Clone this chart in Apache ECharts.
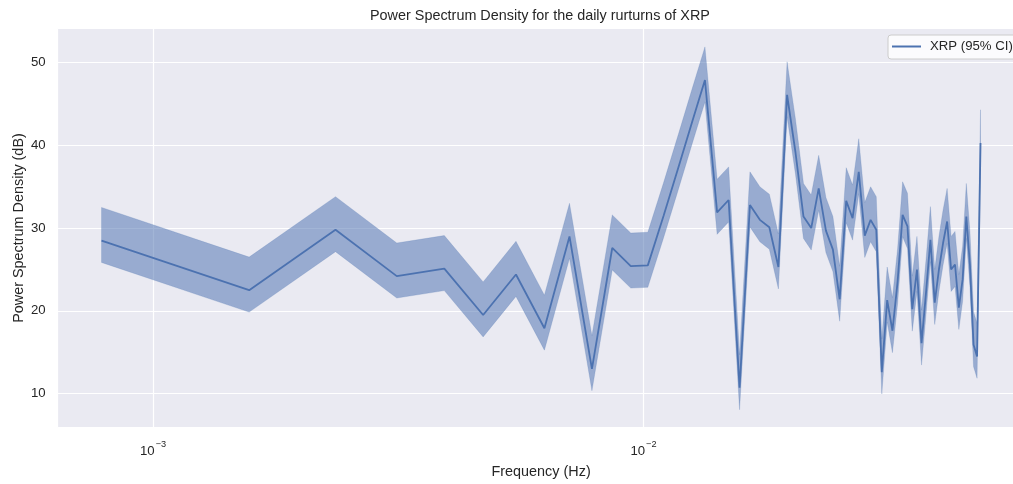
<!DOCTYPE html>
<html>
<head>
<meta charset="utf-8">
<script src="https://cdn.jsdelivr.net/npm/echarts@6/dist/echarts.min.js"></script>
<style>
html,body{margin:0;padding:0;background:#ffffff;}
#chart{width:1013px;height:484px;}
</style>
</head>
<body>
<div id="chart"></div>
<script>
// Frequencies (Hz)
const freq = [0.000785, 0.00157, 0.002355, 0.00314, 0.003925, 0.00471, 0.005495, 0.00628, 0.007065, 0.00785,
  0.008635, 0.00942, 0.010205, 0.01099, 0.011775, 0.01256, 0.013345, 0.01413, 0.014915, 0.0157,
  0.016485, 0.01727, 0.018055, 0.01884, 0.019625, 0.02041, 0.021195, 0.02198, 0.022765, 0.02355,
  0.024335, 0.02512, 0.025905, 0.02669, 0.027475, 0.02826, 0.029045, 0.02983, 0.030615, 0.0314,
  0.032185, 0.03297, 0.033755, 0.03454, 0.035325, 0.03611, 0.036895, 0.03768, 0.038465, 0.03925,
  0.040035, 0.04082, 0.041605, 0.04239, 0.043175, 0.04396, 0.044745, 0.04553, 0.046315, 0.0471,
  0.047885, 0.04867];
// PSD (dB)
const psd = [28.5, 22.5, 29.8, 24.2, 25.1, 19.5, 24.4, 17.9, 29.0, 13.0,
  27.6, 25.4, 25.5, 31.5, 37.3, 42.8, 47.9, 31.9, 33.4, 10.7,
  32.8, 31.0, 30.1, 25.3, 46.1, 39.2, 31.4, 30.0, 34.8, 29.7,
  27.4, 21.4, 33.3, 31.2, 36.8, 29.1, 31.0, 29.8, 12.6, 21.3,
  17.6, 23.5, 31.6, 30.2, 20.2, 25.0, 16.1, 22.2, 28.6, 21.0,
  25.0, 28.2, 30.8, 25.0, 25.6, 20.4, 23.8, 31.4, 25.5, 15.9,
  14.5, 40.3];
// 95% CI upper bound (dB)
const ciUpper = [32.5, 26.5, 33.8, 28.2, 29.1, 23.5, 28.4, 21.9, 33.0, 17.0,
  31.6, 29.4, 29.5, 35.5, 41.3, 46.8, 51.9, 35.9, 37.4, 14.7,
  36.8, 35.0, 34.1, 29.3, 50.1, 43.2, 35.4, 34.0, 38.8, 33.7,
  31.4, 25.4, 37.3, 35.2, 40.8, 33.1, 35.0, 33.8, 16.6, 25.3,
  21.6, 27.5, 35.6, 34.2, 24.2, 29.0, 20.1, 26.2, 32.6, 25.0,
  29.0, 32.2, 34.8, 29.0, 29.6, 24.4, 27.8, 35.4, 29.5, 19.9,
  18.5, 44.3];
// 95% CI lower bound (dB)
const ciLower = [25.85, 19.85, 27.15, 21.55, 22.45, 16.85, 21.75, 15.25, 26.35, 10.35,
  24.95, 22.75, 22.85, 28.85, 34.65, 40.15, 45.25, 29.25, 30.75, 8.05,
  30.15, 28.35, 27.45, 22.65, 43.45, 36.55, 28.75, 27.35, 32.15, 27.05,
  24.75, 18.75, 30.65, 28.55, 34.15, 26.45, 28.35, 27.15, 9.95, 18.65,
  14.95, 20.85, 28.95, 27.55, 17.55, 22.35, 13.45, 19.55, 25.95, 18.35,
  22.35, 25.55, 28.15, 22.35, 22.95, 17.75, 21.15, 28.75, 22.85, 13.25,
  11.85, 37.65];
const yTicks = [10, 20, 30, 40, 50];
const seriesName = 'XRP (95% CI)';

const FONT = "'Liberation Sans', Arial, 'DejaVu Sans', sans-serif";
const LINE_COLOR = '#4C72B0';
const BAND_COLOR = 'rgba(76,114,176,0.52)';
const TEXT_COLOR = '#262626';

const chart = echarts.init(document.getElementById('chart'), null, {renderer: 'canvas'});

const option = {
  animation: false,
  backgroundColor: '#ffffff',
  title: {
    text: 'Power Spectrum Density for the daily rurturns of XRP',
    left: 370, top: 9, padding: 0,
    textStyle: {fontFamily: FONT, fontSize: 14.4, fontWeight: 'normal', color: TEXT_COLOR}
  },
  legend: {
    data: [{name: seriesName, icon: 'rect'}],
    left: 888, top: 35,
    orient: 'vertical',
    padding: [5, 24, 6, 4],
    itemWidth: 29, itemHeight: 2,
    backgroundColor: 'rgba(255,255,255,0.8)',
    borderColor: '#cccccc', borderWidth: 1, borderRadius: 3,
    textStyle: {fontFamily: FONT, fontSize: 13.2, color: TEXT_COLOR, padding: [0, 0, 0, 4]}
  },
  grid: {
    left: 57.7, right: -11.5, top: 28.3, bottom: 56.3,
    outerBoundsMode: 'none',
    containLabel: false,
    show: true, backgroundColor: '#EAEAF2', borderWidth: 0
  },
  xAxis: {
    type: 'log',
    logBase: 10,
    min: 0.000639,
    max: 0.05983,
    name: 'Frequency (Hz)',
    nameLocation: 'middle',
    nameGap: 37,
    nameMoveOverlap: false,
    nameTextStyle: {fontFamily: FONT, fontSize: 14.4, color: TEXT_COLOR},
    axisLine: {show: false},
    axisTick: {show: false},
    minorTick: {show: false},
    splitLine: {show: true, lineStyle: {color: '#ffffff', width: 1.2}},
    axisLabel: {
      margin: 12,
      showMinLabel: false, showMaxLabel: false,
      formatter: function (v) {
        const l = Math.log10(v);
        if (Math.abs(l - Math.round(l)) > 1e-6) return '';
        const e = Math.round(l);
        return '{b|10}{s|' + (e < 0 ? '\u2212' : '') + Math.abs(e) + '}';
      },
      rich: {
        b: {fontFamily: FONT, fontSize: 13.2, color: TEXT_COLOR},
        s: {fontFamily: FONT, fontSize: 9.2, color: TEXT_COLOR, padding: [0, 0, 14, 1]}
      }
    }
  },
  yAxis: {
    type: 'value',
    min: 5.88,
    max: 54.15,
    name: 'Power Spectrum Density (dB)',
    nameLocation: 'middle',
    nameRotate: 90,
    nameGap: 32,
    nameMoveOverlap: false,
    nameTextStyle: {fontFamily: FONT, fontSize: 14.4, color: TEXT_COLOR},
    axisLine: {show: false},
    axisTick: {show: false},
    splitLine: {show: true, lineStyle: {color: '#ffffff', width: 1.2}},
    axisLabel: {
      margin: 12,
      fontFamily: FONT, fontSize: 13.2, color: TEXT_COLOR,
      showMinLabel: false, showMaxLabel: false,
      formatter: function (v) {
        return yTicks.indexOf(Math.round(v * 1000) / 1000) >= 0 ? String(v) : '';
      }
    }
  },
  series: [
    {
      type: 'custom',
      name: 'band',
      silent: true,
      z: 1,
      clip: true,
      data: freq.map((f, i) => [f, ciLower[i], ciUpper[i]]),
      encode: {x: 0, y: [1, 2]},
      renderItem: function (params, api) {
        if (params.dataIndex !== 0) return;
        const pts = [];
        for (let i = 0; i < freq.length; i++) pts.push(api.coord([freq[i], ciUpper[i]]));
        for (let i = freq.length - 1; i >= 0; i--) pts.push(api.coord([freq[i], ciLower[i]]));
        return {
          type: 'polygon',
          shape: {points: pts},
          style: {fill: BAND_COLOR, stroke: 'rgba(76,114,176,0.25)', lineWidth: 0.8}
        };
      }
    },
    {
      type: 'line',
      name: seriesName,
      z: 3,
      symbol: 'none',
      data: freq.map((f, i) => [f, psd[i]]),
      lineStyle: {color: LINE_COLOR, width: 1.8},
      itemStyle: {color: LINE_COLOR}
    }
  ]
};
chart.setOption(option);
</script>
</body>
</html>
